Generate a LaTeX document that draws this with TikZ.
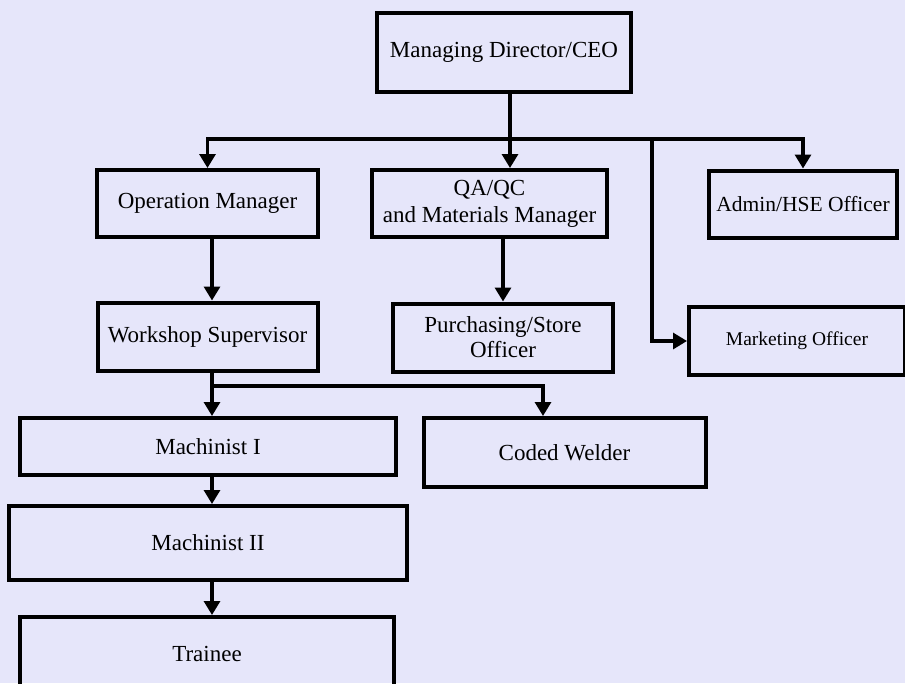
\documentclass[tikz,border=0pt]{standalone}
\usepackage{fontspec}
\setmainfont{Liberation Serif}
\usetikzlibrary{arrows.meta}
\definecolor{bgcol}{RGB}{230,230,250}

\begin{document}
\begin{tikzpicture}[x=1pt,y=-1pt]
			\tikzstyle{es} = [line width=3.2pt,-{Triangle[width=16pt,length=14pt]}]
			\tikzstyle{post} = [draw,line width=4pt,inner sep=0pt,align=center,font=\fontsize{23}{27}\selectfont]
			\useasboundingbox (0,0) rectangle (905,683);
			\clip (0,0) rectangle (905,683);
			\fill [bgcol] (0,0) rectangle (905,683);
			\node [post,minimum width=254pt,minimum height=79pt] (ceo) at (504,52) {Managing Director/CEO};
			\node [post,minimum width=221pt,minimum height=67pt] (ops) at (207.5,203.5) {Operation Manager};
			\node [post,minimum width=235pt,minimum height=67pt] (qa) at (489.5,203.5) {QA/QC\\and Materials Manager};
			\node [post,minimum width=188pt,minimum height=67pt,font=\fontsize{21.5}{25}\selectfont] (admin) at (803,204) {Admin/HSE Officer};
			\node [post,minimum width=220pt,minimum height=68pt] (ws) at (207.5,336.5) {Workshop Supervisor};
			\node [post,minimum width=220pt,minimum height=68pt,font=\fontsize{23}{25}\selectfont] (pur) at (503,337.5) {Purchasing/Store\\Officer};
			\node [post,minimum width=216pt,minimum height=68pt,font=\fontsize{19.5}{22}\selectfont] (mkt) at (797,341) {Marketing Officer};
			\node [post,minimum width=376pt,minimum height=57pt] (m1) at (208,446.5) {Machinist I};
			\node [post,minimum width=282pt,minimum height=69pt] (weld) at (564.5,452.5) {Coded Welder};
			\node [post,minimum width=398pt,minimum height=74pt] (m2) at (208,543) {Machinist II};
			\node [post,minimum width=374pt,minimum height=74pt] (tr) at (207,654) {Trainee};
			\coordinate (b0) at (510,139);
			\coordinate (b1) at (652,139);
			\coordinate (j0) at (212,386);
			\coordinate (j1) at (543,386);
			\draw [es] (ceo.south -| b0) -- (qa.north -| b0);
			\draw [es] (b1) -| (ops.north);
			\draw [es] (b1) -| (admin.north);
			\draw [es] (b1) |- (mkt.west);
			\draw [es] (ops.south -| j0) -- (ws.north -| j0);
			\draw [es] (qa.south -| pur.north) -- (pur.north);
			\draw [es] (ws.south -| j0) -- (m1.north -| j0);
			\draw [es] (j0) -- (j1) -- (weld.north -| j1);
			\draw [es] (m1.south -| j0) -- (m2.north -| j0);
			\draw [es] (m2.south -| j0) -- (tr.north -| j0);
		\end{tikzpicture}
\end{document}
